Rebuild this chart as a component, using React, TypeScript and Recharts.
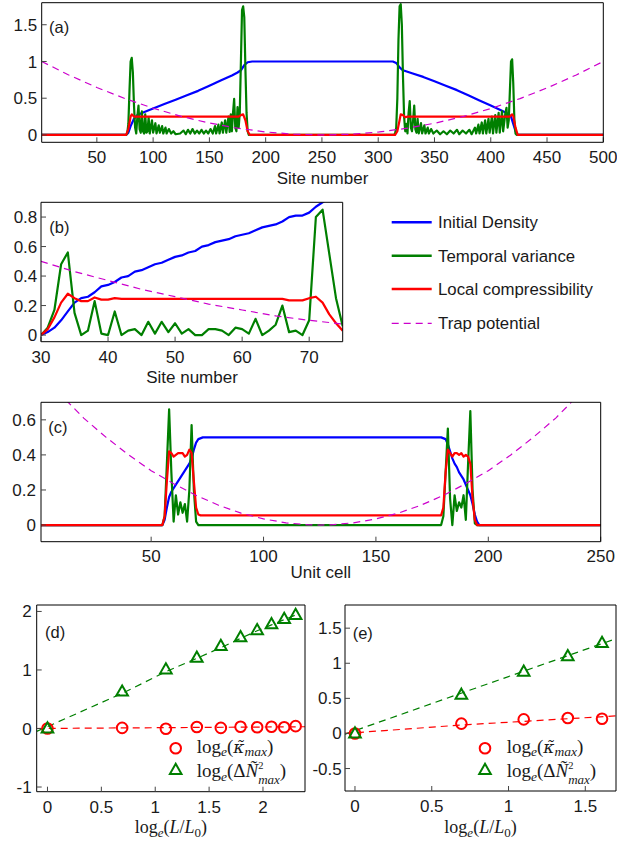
import React from 'react';
import { LineChart, Line, XAxis, YAxis } from 'recharts';

const FONT = '"Liberation Sans", Arial, Helvetica, sans-serif';
const SERIF = '"Liberation Serif", "DejaVu Serif", "Times New Roman", serif';
const BLUE = '#0000ff';
const GREEN = '#007f00';
const RED = '#ff0000';
const MAG = '#cc00cc';
const INK = '#1a1a1a';

type Pt = [number, number];

// ---------- Panel (a): site number 1..500 ----------
const ticksAX = [50, 100, 150, 200, 250, 300, 350, 400, 450, 500];
const ticksAY = [0, 0.5, 1, 1.5];
const densityA: Pt[] = [
  [1, 0], [76, 0], [78, 0.03], [80, 0.12], [83, 0.22], [86, 0.27], [90, 0.3], [100, 0.36], [110, 0.42],
  [120, 0.48], [130, 0.54], [140, 0.6], [150, 0.67], [160, 0.74], [170, 0.81], [175, 0.85], [178, 0.88],
  [181, 0.95], [184, 0.99], [188, 1.0], [313, 1.0], [316, 0.98], [319, 0.92], [322, 0.88], [330, 0.84],
  [340, 0.79], [350, 0.73], [360, 0.67], [370, 0.61], [380, 0.54], [390, 0.47], [400, 0.4], [410, 0.33],
  [415, 0.29], [418, 0.25], [420, 0.15], [422, 0.05], [424, 0], [500, 0],
];
const varianceA: Pt[] = [
  [1, 0], [76, 0], [77, 0.02], [78, 0.15], [79, 0.6], [80, 1.0], [81, 1.05], [82, 0.85], [83, 0.4], [84, 0.1], [85, 0.02],
  [86, 0.25], [87, 0.4], [88, 0.08], [89, 0.03], [90, 0.32], [91, 0.05], [92, 0.02], [93, 0.28], [94, 0.03], [95, 0.05],
  [96, 0.24], [97, 0.02], [99, 0.2], [100, 0.03], [102, 0.16], [103, 0.02], [105, 0.13], [106, 0.03], [108, 0.12],
  [109, 0.02], [111, 0.1], [112, 0.02], [114, 0.08], [116, 0.02], [118, 0.05], [120, 0.01], [124, 0.02], [127, 0.06],
  [129, 0.01], [131, 0.07], [133, 0.02], [135, 0.08], [137, 0.02], [139, 0.06], [141, 0.02], [143, 0.07], [145, 0.02],
  [147, 0.06], [149, 0.02], [151, 0.08], [153, 0.02], [155, 0.12], [156, 0.02], [158, 0.14], [159, 0.02], [161, 0.17],
  [162, 0.03], [164, 0.2], [165, 0.03], [167, 0.25], [168, 0.04], [169, 0.28], [170, 0.05], [171, 0.3], [172, 0.49],
  [173, 0.1], [174, 0.05], [175, 0.38], [176, 0.1], [177, 0.3], [178, 1.0], [179, 1.7], [180, 1.75], [181, 1.6],
  [182, 0.9], [183, 0.3], [184, 0.05], [185, 0],
  [314, 0], [315, 0.02], [316, 0.1], [317, 0.5], [318, 1.3], [319, 1.75], [320, 1.78], [321, 1.5], [322, 0.8],
  [323, 0.25], [324, 0.05], [325, 0.15], [326, 0.02], [327, 0.3], [328, 0.46], [329, 0.1], [330, 0.05], [331, 0.2],
  [332, 0.4], [333, 0.08], [334, 0.03], [335, 0.22], [336, 0.02], [338, 0.16], [339, 0.02], [341, 0.13], [342, 0.02],
  [344, 0.1], [345, 0.02], [347, 0.08], [349, 0.02], [352, 0.06], [355, 0.01], [358, 0.05], [361, 0.01], [364, 0.06],
  [367, 0.02], [370, 0.07], [372, 0.01], [375, 0.06], [378, 0.02], [381, 0.07], [383, 0.01], [386, 0.1], [387, 0.02],
  [389, 0.14], [390, 0.02], [392, 0.17], [393, 0.02], [395, 0.2], [396, 0.02], [398, 0.22], [399, 0.03], [401, 0.25],
  [402, 0.02], [404, 0.27], [405, 0.03], [407, 0.3], [408, 0.03], [410, 0.32], [411, 0.05], [413, 0.3], [414, 0.37],
  [415, 0.1], [416, 0.2], [417, 0.6], [418, 1.0], [419, 1.03], [420, 0.7], [421, 0.2], [422, 0.02], [423, 0], [500, 0],
];
const compressA: Pt[] = [
  [1, 0], [76, 0], [78, 0.08], [80, 0.25], [81, 0.28], [83, 0.25], [176, 0.25], [178, 0.27], [180, 0.28],
  [182, 0.2], [184, 0.05], [186, 0], [315, 0], [317, 0.05], [319, 0.2], [320, 0.28], [322, 0.27], [324, 0.24],
  [326, 0.25], [417, 0.25], [419, 0.28], [420, 0.26], [422, 0.1], [424, 0], [500, 0],
];
const trapA: Pt[] = [
  [1, 1.0], [25, 0.817], [50, 0.646], [75, 0.495], [100, 0.364], [125, 0.253], [150, 0.162], [175, 0.092],
  [200, 0.041], [225, 0.01], [250, 0], [251, 0], [276, 0.01], [301, 0.041], [326, 0.092], [351, 0.162],
  [376, 0.253], [401, 0.364], [426, 0.495], [451, 0.646], [476, 0.817], [500, 1.0],
];

// ---------- Panel (b): sites 30..75 ----------
const ticksBX = [30, 40, 50, 60, 70];
const ticksBY = [0, 0.2, 0.4, 0.6, 0.8];
const sitesB = [30, 31, 32, 33, 34, 35, 36, 37, 38, 39, 40, 41, 42, 43, 44, 45, 46, 47, 48, 49, 50, 51, 52,
  53, 54, 55, 56, 57, 58, 59, 60, 61, 62, 63, 64, 65, 66, 67, 68, 69, 70, 71, 72, 73, 74, 75];
const densityB = [0.0, 0.02, 0.05, 0.1, 0.16, 0.22, 0.25, 0.26, 0.29, 0.33, 0.34, 0.36, 0.39, 0.4, 0.43, 0.44,
  0.46, 0.48, 0.49, 0.51, 0.53, 0.54, 0.56, 0.57, 0.6, 0.61, 0.63, 0.64, 0.65, 0.67, 0.68, 0.69, 0.71, 0.73,
  0.74, 0.75, 0.77, 0.8, 0.81, 0.81, 0.83, 0.87, 0.9, 0.93, 0.96, 0.98];
const varianceB = [0.0, 0.05, 0.17, 0.48, 0.56, 0.15, 0.0, 0.03, 0.23, 0.01, 0.0, 0.16, 0.0, 0.03, 0.04, 0.0,
  0.09, 0.01, 0.09, 0.02, 0.08, 0.01, 0.04, 0.0, 0.0, 0.04, 0.04, 0.03, 0.0, 0.05, 0.04, 0.01, 0.11, 0.0, 0.03,
  0.07, 0.2, 0.02, 0.03, 0.0, 0.1, 0.8, 0.85, 0.55, 0.25, 0.06];
const compressB = [0.0, 0.04, 0.12, 0.22, 0.28, 0.25, 0.23, 0.23, 0.255, 0.24, 0.24, 0.25, 0.245, 0.245, 0.245,
  0.245, 0.245, 0.245, 0.245, 0.245, 0.245, 0.245, 0.245, 0.245, 0.245, 0.245, 0.245, 0.245, 0.245, 0.245,
  0.245, 0.245, 0.245, 0.245, 0.245, 0.245, 0.245, 0.235, 0.235, 0.235, 0.25, 0.26, 0.22, 0.14, 0.08, 0.03];
const trapB: Pt[] = [[30, 0.5], [35, 0.43], [40, 0.37], [45, 0.31], [50, 0.26], [55, 0.21], [60, 0.17],
  [65, 0.13], [70, 0.1], [75, 0.075]];

// ---------- Panel (c): unit cell 1..250 ----------
const ticksCX = [50, 100, 150, 200, 250];
const ticksCY = [0, 0.2, 0.4, 0.6];
const densityC: Pt[] = [
  [1, 0], [55, 0], [56, 0.03], [57, 0.1], [58, 0.16], [59, 0.19], [60, 0.21], [61, 0.23], [62, 0.25], [63, 0.27],
  [64, 0.29], [65, 0.31], [66, 0.33], [67, 0.35], [68, 0.38], [69, 0.43], [70, 0.47], [71, 0.49], [73, 0.5],
  [179, 0.5], [181, 0.49], [182, 0.46], [183, 0.42], [184, 0.38], [185, 0.35], [186, 0.33], [187, 0.3],
  [188, 0.28], [189, 0.26], [190, 0.23], [191, 0.2], [192, 0.17], [193, 0.12], [194, 0.06], [195, 0.02],
  [196, 0], [250, 0],
];
const varianceC: Pt[] = [
  [1, 0], [55, 0], [56, 0.05], [57, 0.35], [58, 0.66], [59, 0.3], [60, 0.02], [61, 0.17], [62, 0.06], [63, 0.13],
  [64, 0.07], [65, 0.12], [66, 0.02], [67, 0.2], [68, 0.57], [69, 0.2], [70, 0.02], [71, 0], [179, 0],
  [180, 0.05], [181, 0.3], [182, 0.55], [183, 0.15], [184, 0.0], [185, 0.17], [186, 0.08], [187, 0.13],
  [188, 0.1], [189, 0.17], [190, 0.03], [191, 0.35], [192, 0.65], [193, 0.2], [194, 0.01], [195, 0], [250, 0],
];
const compressC: Pt[] = [
  [1, 0], [55, 0], [56, 0.05], [57, 0.25], [58, 0.42], [59, 0.41], [60, 0.39], [61, 0.4], [62, 0.41], [63, 0.41],
  [64, 0.41], [65, 0.39], [66, 0.4], [67, 0.43], [68, 0.41], [69, 0.25], [70, 0.1], [71, 0.06], [72, 0.055],
  [179, 0.055], [180, 0.1], [181, 0.3], [182, 0.43], [183, 0.41], [184, 0.39], [185, 0.41], [186, 0.41],
  [187, 0.4], [188, 0.41], [189, 0.39], [190, 0.4], [191, 0.39], [192, 0.35], [193, 0.15], [194, 0.03],
  [195, 0], [250, 0],
];
const trapC: Pt[] = [
  [1, 0.86], [10, 0.74], [20, 0.61], [30, 0.5], [40, 0.4], [50, 0.31], [60, 0.236], [70, 0.169], [80, 0.113],
  [90, 0.068], [100, 0.035], [110, 0.0126], [120, 0.0014], [125, 0], [130, 0.0014], [140, 0.0126], [150, 0.035],
  [160, 0.068], [170, 0.113], [180, 0.169], [190, 0.236], [200, 0.31], [210, 0.4], [220, 0.5], [230, 0.61],
  [240, 0.74], [250, 0.87],
];

// ---------- Panel (d) ----------
const ticksDX = [0, 0.5, 1, 1.5, 2];
const ticksDY = [-1, 0, 1, 2];
const logLD = [0, 0.693, 1.099, 1.386, 1.609, 1.792, 1.946, 2.079, 2.197, 2.303];
const kappaD = [0, 0.01, -0.005, 0.025, 0.01, 0.03, 0.02, 0.03, 0.02, 0.04];
const varD = [0, 0.63, 1.01, 1.21, 1.41, 1.56, 1.68, 1.78, 1.87, 1.94];
const fitVarD: Pt[] = [[-0.1, -0.05], [0.693, 0.6], [1.099, 0.97], [1.386, 1.2], [1.609, 1.38], [1.792, 1.54],
  [1.946, 1.67], [2.079, 1.77], [2.197, 1.86], [2.303, 1.94]];
const fitKappaD: Pt[] = [[-0.1, 0.0], [2.39, 0.03]];

// ---------- Panel (e) ----------
const ticksEX = [0, 0.5, 1, 1.5];
const ticksEY = [-0.5, 0, 0.5, 1, 1.5];
const logLE = [0, 0.693, 1.099, 1.386, 1.609];
const kappaE = [0, 0.14, 0.2, 0.22, 0.21];
const varE = [0, 0.55, 0.88, 1.1, 1.29];
const fitVarE: Pt[] = [[-0.065, -0.01], [1.7, 1.35]];
const fitKappaE: Pt[] = [[-0.065, 0.0], [0.693, 0.12], [1.7, 0.25]];

const legendB = [
  { label: 'Initial Density', color: BLUE, dash: undefined as string | undefined, w: 2.5 },
  { label: 'Temporal variance', color: GREEN, dash: undefined as string | undefined, w: 2.5 },
  { label: 'Local compressibility', color: RED, dash: undefined as string | undefined, w: 2.5 },
  { label: 'Trap potential', color: MAG, dash: '7 5', w: 1.2 },
];

const toXY = (pts: Pt[]) => pts.map(([x, y]) => ({ x, y }));
const zipXY = (xs: number[], ys: number[]) => xs.map((x, i) => ({ x, y: ys[i] }));

type Box = { left: number; top: number; width: number; height: number };
type Plot = { x0: number; x1: number; y0: number; y1: number };

const FS = 17;

function Panel(props: {
  box: Box; plot: Plot; xDomain: number[]; yDomain: number[]; xTicks: number[]; yTicks: number[];
  xTM: number; yTM: number; children: React.ReactNode;
}) {
  const { box, plot } = props;
  const margin = {
    left: 0,
    top: plot.y0 - box.top - 1,
    right: box.left + box.width - plot.x1 - 1,
    bottom: 0,
  };
  const yW = plot.x0 - box.left;
  const xH = box.top + box.height - plot.y1;
  const tickStyle = { fill: INK, fontSize: FS, fontFamily: FONT };
  const axisLine = { stroke: '#000', strokeWidth: 1 };
  const tickLine = { stroke: '#444', strokeWidth: 1 };
  return (
    <div style={{ position: 'absolute', left: box.left, top: box.top }}>
      <LineChart width={box.width} height={box.height} margin={margin}>
        <XAxis xAxisId="b" type="number" dataKey="x" domain={props.xDomain} ticks={props.xTicks} allowDataOverflow
          height={xH} tickSize={-5} tickMargin={props.xTM} interval={0} axisLine={axisLine} tickLine={tickLine}
          tick={tickStyle} />
        <XAxis xAxisId="t" orientation="top" type="number" dataKey="x" domain={props.xDomain} ticks={props.xTicks}
          allowDataOverflow height={1} tickSize={-5} interval={0} axisLine={axisLine} tickLine={tickLine} tick={false} />
        <YAxis yAxisId="l" type="number" domain={props.yDomain} ticks={props.yTicks} allowDataOverflow width={yW}
          tickSize={-5} tickMargin={props.yTM} interval={0} axisLine={axisLine} tickLine={tickLine} tick={tickStyle} />
        <YAxis yAxisId="r" orientation="right" type="number" domain={props.yDomain} ticks={props.yTicks}
          allowDataOverflow width={1} tickSize={-5} interval={0} axisLine={axisLine} tickLine={tickLine} tick={false} />
        {props.children}
      </LineChart>
    </div>
  );
}

const solid = (data: { x: number; y: number }[], color: string, key: string) => (
  <Line key={key} xAxisId="b" yAxisId="l" data={data} dataKey="y" type="linear" stroke={color} strokeWidth={2.2}
    dot={false} activeDot={false} isAnimationActive={false} strokeLinejoin="round" />
);
const dashed = (data: { x: number; y: number }[], color: string, key: string, w = 1.2) => (
  <Line key={key} xAxisId="b" yAxisId="l" data={data} dataKey="y" type="linear" stroke={color} strokeWidth={w}
    strokeDasharray="7 5" dot={false} activeDot={false} isAnimationActive={false} />
);

const circleDot = (p: any) => (
  <circle key={`c${p.index}`} cx={p.cx} cy={p.cy} r={5.3} fill="none" stroke={RED} strokeWidth={2} />
);
const triDot = (p: any) => (
  <path key={`t${p.index}`} d={`M${p.cx},${p.cy - 6.2} L${p.cx + 5.8},${p.cy + 4} L${p.cx - 5.8},${p.cy + 4} Z`}
    fill="none" stroke={GREEN} strokeWidth={2} />
);
const markers = (data: { x: number; y: number }[], dot: any, key: string) => (
  <Line key={key} xAxisId="b" yAxisId="l" data={data} dataKey="y" type="linear" stroke="none" dot={dot}
    activeDot={false} isAnimationActive={false} />
);

function KappaLabel({ x, y }: { x: number; y: number }) {
  return (
    <text x={x} y={y} fontFamily={SERIF} fontSize={19} fill={INK}>
      log<tspan fontSize={13.5} dy={3} fontStyle="italic">e</tspan>
      <tspan dy={-3}>(</tspan><tspan fontStyle="italic" fontFamily='"DejaVu Serif", serif' fontSize={17}>κ̃</tspan>
      <tspan fontSize={13.5} dy={3} fontStyle="italic">max</tspan><tspan dy={-3}>)</tspan>
    </text>
  );
}
function VarLabel({ x, y }: { x: number; y: number }) {
  return (
    <text x={x} y={y} fontFamily={SERIF} fontSize={19} fill={INK}>
      log<tspan fontSize={13.5} dy={4} fontStyle="italic">e</tspan>
      <tspan dy={-4}>(Δ</tspan><tspan fontStyle="italic">Ñ</tspan>
      <tspan fontSize={10.5} dy={-8}>2</tspan>
      <tspan fontSize={13} dx={-5.3} dy={14.5} fontStyle="italic">max</tspan><tspan dy={-6.5}>)</tspan>
    </text>
  );
}
function XLogLabel({ cx, y }: { cx: number; y: number }) {
  return (
    <text x={cx} y={y} textAnchor="middle" fontFamily={SERIF} fontSize={18} fill={INK}>
      log<tspan fontSize={13} dy={4} fontStyle="italic">e</tspan>
      <tspan dy={-4}>(</tspan><tspan fontStyle="italic">L</tspan>/<tspan fontStyle="italic">L</tspan>
      <tspan fontSize={13} dy={4}>0</tspan><tspan dy={-4}>)</tspan>
    </text>
  );
}

export default function App() {
  const tagStyle = { fontFamily: FONT, fontSize: 16.5, fill: INK } as const;
  return (
    <div style={{ position: 'absolute', left: 0, top: 0, width: 617, height: 842, background: '#fff', overflow: 'hidden' }}>
      <Panel box={{ left: 0, top: 0, width: 617, height: 172 }} plot={{ x0: 41.7, x1: 603.3, y0: 2.7, y1: 142.3 }}
        xDomain={[1, 500]} yDomain={[-0.1, 1.8]} xTicks={ticksAX} yTicks={ticksAY} xTM={14} yTM={9.5}>
        {[
          solid(toXY(densityA), BLUE, 'a1'),
          solid(toXY(varianceA), GREEN, 'a2'),
          solid(toXY(compressA), RED, 'a3'),
          dashed(toXY(trapA), MAG, 'a4'),
        ]}
      </Panel>
      <Panel box={{ left: 0, top: 190, width: 617, height: 180 }} plot={{ x0: 41, x1: 342.7, y0: 202.3, y1: 341.7 }}
        xDomain={[30, 75]} yDomain={[-0.045, 0.9]} xTicks={ticksBX} yTicks={ticksBY} xTM={14} yTM={8.7}>
        {[
          solid(zipXY(sitesB, densityB), BLUE, 'b1'),
          solid(zipXY(sitesB, varianceB), GREEN, 'b2'),
          solid(zipXY(sitesB, compressB), RED, 'b3'),
          dashed(toXY(trapB), MAG, 'b4'),
        ]}
      </Panel>
      <Panel box={{ left: 0, top: 390, width: 617, height: 180 }} plot={{ x0: 41, x1: 600.7, y0: 402.3, y1: 541.7 }}
        xDomain={[1, 250]} yDomain={[-0.095, 0.7]} xTicks={ticksCX} yTicks={ticksCY} xTM={13.5} yTM={10}>
        {[
          solid(toXY(densityC), BLUE, 'c1'),
          solid(toXY(varianceC), GREEN, 'c2'),
          solid(toXY(compressC), RED, 'c3'),
          dashed(toXY(trapC), MAG, 'c4'),
        ]}
      </Panel>
      <Panel box={{ left: 0, top: 595, width: 310, height: 235 }} plot={{ x0: 36.7, x1: 305, y0: 605, y1: 791.7 }}
        xDomain={[-0.1, 2.39]} yDomain={[-1.08, 2.11]} xTicks={ticksDX} yTicks={ticksDY} xTM={14} yTM={10}>
        {[
          dashed(toXY(fitKappaD), RED, 'd1', 1.2),
          dashed(toXY(fitVarD), GREEN, 'd2', 1.2),
          markers(zipXY(logLD, kappaD), circleDot, 'd3'),
          markers(zipXY(logLD, varD), triDot, 'd4'),
        ]}
      </Panel>
      <Panel box={{ left: 300, top: 595, width: 317, height: 235 }} plot={{ x0: 345, x1: 616, y0: 605, y1: 791 }}
        xDomain={[-0.065, 1.7]} yDomain={[-0.82, 1.83]} xTicks={ticksEX} yTicks={ticksEY} xTM={14} yTM={8.3}>
        {[
          dashed(toXY(fitKappaE), RED, 'e1', 1.2),
          dashed(toXY(fitVarE), GREEN, 'e2', 1.2),
          markers(zipXY(logLE, kappaE), circleDot, 'e3'),
          markers(zipXY(logLE, varE), triDot, 'e4'),
        ]}
      </Panel>

      <svg width={617} height={842} style={{ position: 'absolute', left: 0, top: 0, pointerEvents: 'none' }}>
        <text x={49} y={33} {...tagStyle}>(a)</text>
        <text x={49.3} y={232.7} {...tagStyle}>(b)</text>
        <text x={48.3} y={433.3} {...tagStyle}>(c)</text>
        <text x={45} y={638.3} {...tagStyle}>(d)</text>
        <text x={352.7} y={639.3} {...tagStyle}>(e)</text>

        <text x={322.5} y={184} textAnchor="middle" fontFamily={FONT} fontSize={FS} fill={INK}>Site number</text>
        <text x={192} y={383.3} textAnchor="middle" fontFamily={FONT} fontSize={FS} fill={INK}>Site number</text>
        <text x={320.8} y={578.3} textAnchor="middle" fontFamily={FONT} fontSize={FS} fill={INK}>Unit cell</text>
        <XLogLabel cx={170.8} y={833} />
        <XLogLabel cx={480.5} y={833} />

        {legendB.map((r, i) => {
          const y = [222.3, 255.7, 289, 323.3][i];
          return (
            <g key={r.label}>
              <line x1={391.7} x2={431.7} y1={y} y2={y} stroke={r.color} strokeWidth={r.w} strokeDasharray={r.dash} />
              <text x={438} y={y + 6} fontFamily={FONT} fontSize={16.8} fill={INK}>{r.label}</text>
            </g>
          );
        })}

        <circle cx={175.7} cy={748.3} r={5.3} fill="none" stroke={RED} strokeWidth={2} />
        <path d="M175.7,763.8 L181.5,774 L169.9,774 Z" fill="none" stroke={GREEN} strokeWidth={2} />
        <KappaLabel x={196.7} y={753} />
        <VarLabel x={196.7} y={777} />

        <circle cx={485} cy={748.3} r={5.3} fill="none" stroke={RED} strokeWidth={2} />
        <path d="M485,763.8 L490.8,774 L479.2,774 Z" fill="none" stroke={GREEN} strokeWidth={2} />
        <KappaLabel x={506.7} y={753} />
        <VarLabel x={506.7} y={777} />
      </svg>
    </div>
  );
}
